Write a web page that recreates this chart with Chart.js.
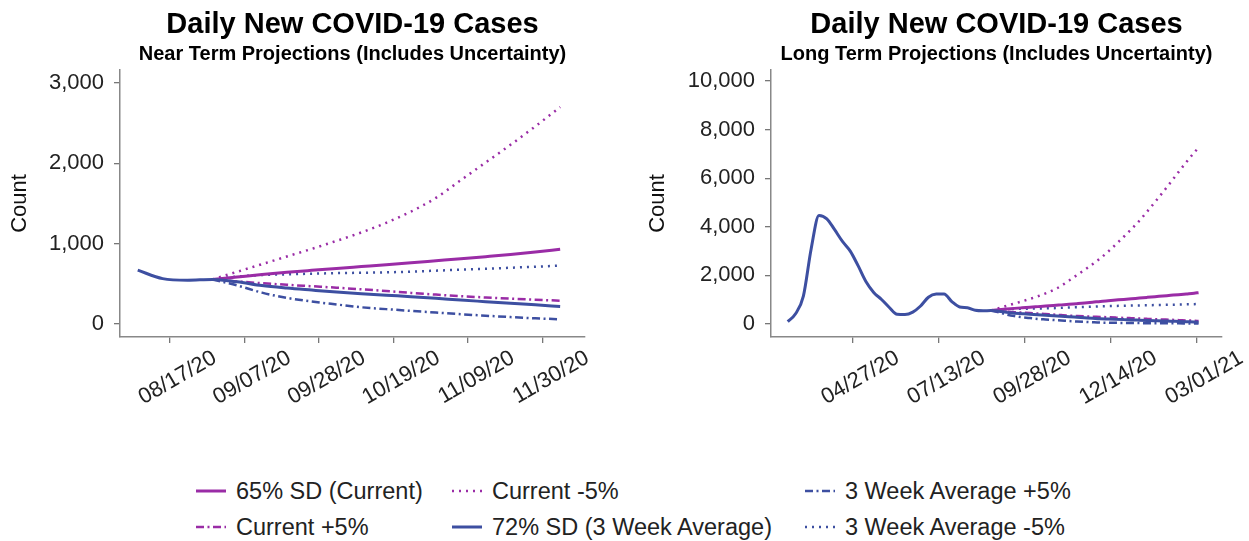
<!DOCTYPE html>
<html>
<head>
<meta charset="utf-8">
<script src="https://cdn.jsdelivr.net/npm/chart.js@4.4.0/dist/chart.umd.min.js"></script>
<style>
  html, body { margin: 0; padding: 0; background: #fff; }
  body { width: 1249px; height: 541px; position: relative; overflow: hidden;
         font-family: "Liberation Sans", Arial, sans-serif; }
  .panel { position: absolute; top: 0; height: 420px; }
  #nearBox { left: 0; width: 620px; }
  #longBox { left: 625px; width: 624px; }
  .item { position: absolute; display: flex; align-items: center; height: 30px;
          font-size: 23.5px; color: #222; white-space: nowrap; }
  .item svg { margin-right: 10px; }
</style>
</head>
<body>
<div class="panel" id="nearBox"><canvas id="near"></canvas></div>
<div class="panel" id="longBox"><canvas id="long"></canvas></div>
<div id="legend"></div>

<script>
// Observed daily cases (weekly points)
const histDates = ['02/29/20', '03/07/20', '03/14/20', '03/21/20', '03/28/20', '04/04/20', '04/11/20',
    '04/18/20', '04/25/20', '05/02/20', '05/09/20', '05/16/20', '05/23/20', '05/30/20', '06/06/20',
    '06/13/20', '06/20/20', '06/27/20', '07/04/20', '07/11/20', '07/18/20', '07/25/20', '08/01/20',
    '08/08/20', '08/15/20', '08/22/20'];
const histCases = [100, 420, 1150, 3100, 4470, 4330, 3880, 3400, 3000, 2400, 1750, 1300, 1010, 680,
    400, 390, 490, 740, 1100, 1230, 1235, 920, 700, 670, 565, 545];

// Projection dates (scenarios start from the last observed week)
const projDates = ['08/29/20', '09/05/20', '09/12/20', '09/19/20', '09/26/20', '10/03/20', '10/10/20',
    '10/17/20', '10/24/20', '10/31/20', '11/07/20', '11/14/20', '11/21/20', '11/28/20', '12/05/20',
    '12/12/20', '12/19/20', '12/26/20', '01/02/21', '01/09/21', '01/16/21', '01/23/21', '01/30/21',
    '02/06/21', '02/13/21', '02/20/21', '02/27/21', '03/03/21'];
const sd65 = [555, 585, 615, 643, 668, 692, 715, 738, 762, 787, 812, 838, 865, 895, 930,
    958, 985, 1012, 1040, 1068, 1096, 1124, 1152, 1180, 1208, 1238, 1268, 1290];
const currentMinus5 = [555, 650, 745, 840, 935, 1035, 1140, 1260, 1400, 1570, 1790, 2010, 2230, 2460, 2700,
    2980, 3280, 3590, 3910, 4250, 4630, 5020, 5420, 5830, 6250, 6660, 7050, 7260];
const weekPlus5 = [555, 480, 390, 325, 280, 243, 208, 185, 163, 143, 122, 103, 86, 71, 58,
    52, 47, 43, 40, 37, 34, 32, 30, 28, 26, 25, 24, 23];
const currentPlus5 = [555, 530, 508, 488, 470, 452, 432, 410, 387, 366, 346, 330, 315, 302, 290,
    277, 264, 251, 238, 225, 212, 199, 186, 173, 160, 147, 134, 125];
const sd72 = [555, 525, 478, 447, 422, 398, 377, 358, 340, 320, 298, 278, 258, 238, 217,
    205, 193, 181, 169, 158, 147, 136, 125, 115, 104, 93, 82, 75];
const weekMinus5 = [555, 590, 610, 618, 626, 633, 638, 643, 652, 664, 676, 688, 700, 713, 727,
    735, 743, 751, 758, 765, 772, 779, 786, 793, 800, 808, 816, 822];

// Tick labels
const nearTicks = ['08/17/20', '09/07/20', '09/28/20', '10/19/20', '11/09/20', '11/30/20'];
const longTicks = ['04/27/20', '07/13/20', '09/28/20', '12/14/20', '03/01/21'];
const nearYTicks = [0, 1000, 2000, 3000];
const longYTicks = [0, 2000, 4000, 6000, 8000, 10000];

const purple = '#9a2ca6';
const blue = '#3d4fa1';
const FONT = '"Liberation Sans", Arial, sans-serif';
Chart.defaults.font.family = FONT;

// Days since epoch for an MM/DD/YY string
function dayNum(s) {
    const [m, d, y] = s.split('/').map(Number);
    return Date.UTC(2000 + y, m - 1, d) / 86400000;
}

function toPoints(dates, values) {
    return dates.map((d, i) => ({ x: dayNum(d), y: values[i] }));
}

// Line looks, in legend order
const series = [
    { label: '65% SD (Current)', values: sd65, color: purple, dash: [], width: 3, order: 1 },
    { label: 'Current +5%', values: currentPlus5, color: purple, dash: [8, 3.5, 2, 3.5], width: 2.5, order: 2 },
    { label: 'Current -5%', values: currentMinus5, color: purple, dash: [2, 5], width: 2.5, order: 3 },
    { label: '72% SD (3 Week Average)', values: sd72, color: blue, dash: [], width: 3, order: 0, withHistory: true },
    { label: '3 Week Average +5%', values: weekPlus5, color: blue, dash: [8, 3.5, 2, 3.5], width: 2.5, order: 2 },
    { label: '3 Week Average -5%', values: weekMinus5, color: blue, dash: [2, 5], width: 2.5, order: 3 }
];

function buildDatasets(fromDate, toDate) {
    const lo = dayNum(fromDate), hi = dayNum(toDate);
    return series.map(s => {
        let pts = toPoints(projDates, s.values);
        if (s.withHistory) pts = toPoints(histDates, histCases).concat(pts);
        return {
            label: s.label,
            data: pts.filter(p => p.x >= lo && p.x <= hi),
            borderColor: s.color,
            borderWidth: s.width,
            borderDash: s.dash,
            order: s.order,
            pointRadius: 0,
            fill: false,
            cubicInterpolationMode: 'monotone'
        };
    });
}

// Draws the two title lines centred over the plot area
const panelTitle = {
    id: 'panelTitle',
    afterDraw(chart, args, opts) {
        const { ctx, chartArea } = chart;
        const cx = (chartArea.left + chartArea.right) / 2;
        ctx.save();
        ctx.textAlign = 'center';
        ctx.textBaseline = 'middle';
        ctx.fillStyle = '#000';
        ctx.font = 'bold 29px ' + FONT;
        ctx.fillText(opts.title, cx, 25);
        ctx.font = 'bold 20px ' + FONT;
        ctx.fillText(opts.subtitle, cx, 54);
        ctx.restore();
    }
};

function makeChart(id, cfg) {
    return new Chart(document.getElementById(id), {
        type: 'line',
        data: { datasets: buildDatasets(cfg.from, cfg.to) },
        plugins: [panelTitle],
        options: {
            responsive: true,
            maintainAspectRatio: false,
            animation: false,
            layout: { padding: { top: 70, right: cfg.padRight, left: 0, bottom: 0 } },
            plugins: {
                legend: { display: false },
                tooltip: { enabled: false },
                panelTitle: { title: 'Daily New COVID-19 Cases', subtitle: cfg.subtitle }
            },
            scales: {
                x: {
                    type: 'linear',
                    min: dayNum(cfg.xMin),
                    max: dayNum(cfg.xMax),
                    afterBuildTicks: s => { s.ticks = cfg.xTicks.map(d => ({ value: dayNum(d) })); },
                    afterFit: s => { s.height = 83; },
                    ticks: {
                        autoSkip: false,
                        minRotation: 30,
                        maxRotation: 30,
                        labelOffset: 45,
                        padding: 2,
                        color: '#222',
                        font: { size: 22 },
                        callback: (v, i) => cfg.xTicks[i]
                    },
                    grid: { drawOnChartArea: false, tickLength: 6, color: '#777', lineWidth: 1.3 },
                    border: { color: '#888', width: 1.5 }
                },
                y: {
                    min: cfg.yMin,
                    max: cfg.yMax,
                    afterBuildTicks: s => { s.ticks = cfg.yTicks.map(v => ({ value: v })); },
                    afterFit: s => { s.width = cfg.yWidth; },
                    ticks: {
                        padding: 10,
                        color: '#222',
                        font: { size: 22 },
                        callback: v => v.toLocaleString('en-US')
                    },
                    title: {
                        display: true,
                        text: 'Count',
                        color: '#111',
                        font: { size: 22 },
                        padding: { top: cfg.countPad, bottom: 0 }
                    },
                    grid: { drawOnChartArea: false, tickLength: 6, color: '#777', lineWidth: 1.3 },
                    border: { color: '#888', width: 1.5 }
                }
            }
        }
    });
}

makeChart('near', {
    subtitle: 'Near Term Projections (Includes Uncertainty)',
    from: '08/08/20', to: '12/05/20',
    xMin: '08/03/20', xMax: '12/12/20', xTicks: nearTicks,
    yMin: -162, yMax: 3162, yTicks: nearYTicks,
    yWidth: 120, countPad: 7, padRight: 35
});

makeChart('long', {
    subtitle: 'Long Term Projections (Includes Uncertainty)',
    from: '01/01/20', to: '12/31/21',
    xMin: '02/14/20', xMax: '03/24/21', xTicks: longTicks,
    yMin: -535, yMax: 10453, yTicks: longYTicks,
    yWidth: 146, countPad: 20, padRight: 27
});

// Shared legend below both panels, three columns by two rows
const legendCols = [196, 452, 805];
const legendRows = [491, 527];
const legend = document.getElementById('legend');
series.forEach((s, i) => {
    const col = Math.floor(i / 2), row = i % 2;
    const item = document.createElement('div');
    item.className = 'item';
    item.style.left = legendCols[col] + 'px';
    item.style.top = (legendRows[row] - 15) + 'px';
    const dash = s.dash.length ? ' stroke-dasharray="' + s.dash.join(' ') + '"' : '';
    item.innerHTML = '<svg width="30" height="10"><line x1="0" y1="5" x2="30" y2="5" stroke="' + s.color +
        '" stroke-width="' + s.width + '"' + dash + '/></svg><span>' + s.label + '</span>';
    legend.appendChild(item);
});
</script>
</body>
</html>
